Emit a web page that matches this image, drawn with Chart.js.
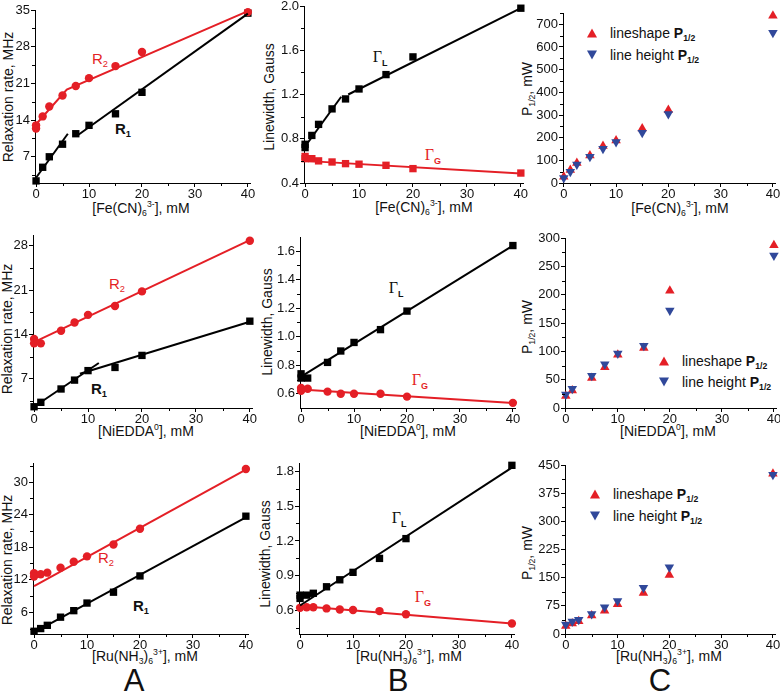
<!DOCTYPE html>
<html><head><meta charset="utf-8">
<script src="https://cdn.jsdelivr.net/npm/chart.js@4.4.1/dist/chart.umd.min.js"></script>
<style>
html,body{margin:0;padding:0;background:#fff;}
body{width:780px;height:693px;position:relative;overflow:hidden;font-family:"Liberation Sans",Arial,sans-serif;color:#111;}
canvas{position:absolute;}
.t{position:absolute;white-space:nowrap;transform:translate(-50%,-50%);font-size:14px;line-height:1;}
.yt{position:absolute;white-space:nowrap;transform:translate(-50%,-50%) rotate(-90deg);font-size:14px;line-height:1;}
sub{font-size:0.62em;vertical-align:-0.4em;line-height:0;}
sup{font-size:0.62em;vertical-align:0.7em;line-height:0;}
.lab{position:absolute;white-space:nowrap;transform:translate(-50%,-50%);font-size:15px;line-height:1;}
.red{color:#e41f26;}
.g{font-family:"Liberation Serif","Times New Roman",serif;font-size:16px;}
.g sub{font-family:"Liberation Sans",Arial,sans-serif;font-size:9px;font-weight:bold;}
.big{position:absolute;transform:translate(-50%,-50%);font-size:31px;line-height:1;}
.leg{position:absolute;white-space:nowrap;font-size:14px;line-height:1;transform:translateY(-50%);}
.tu{position:absolute;width:0;height:0;border-left:5px solid transparent;border-right:5px solid transparent;border-bottom:9px solid #e41f26;transform:translate(-50%,-50%);}
.td{position:absolute;width:0;height:0;border-left:5px solid transparent;border-right:5px solid transparent;border-top:9px solid #30489a;transform:translate(-50%,-50%);}
</style></head><body>

<!-- axis titles -->
<div class="yt" style="left:8px;top:97px">Relaxation rate, MHz</div>
<div class="yt" style="left:269px;top:97px">Linewidth, Gauss</div>
<div class="yt" style="left:527px;top:89px">P<sub>1/2</sub>, mW</div>
<div class="yt" style="left:7px;top:329px">Relaxation rate, MHz</div>
<div class="yt" style="left:267px;top:322px">Linewidth, Gauss</div>
<div class="yt" style="left:527px;top:327px">P<sub>1/2</sub>, mW</div>
<div class="yt" style="left:7px;top:560px">Relaxation rate, MHz</div>
<div class="yt" style="left:265px;top:554px">Linewidth, Gauss</div>
<div class="yt" style="left:527px;top:553px">P<sub>1/2</sub>, mW</div>

<div class="t" style="left:141px;top:208px">[Fe(CN)<sub>6</sub><sup>3-</sup>], mM</div>
<div class="t" style="left:424px;top:207px">[Fe(CN)<sub>6</sub><sup>3-</sup>], mM</div>
<div class="t" style="left:680px;top:208px">[Fe(CN)<sub>6</sub><sup>3-</sup>], mM</div>
<div class="t" style="left:146px;top:431px">[NiEDDA<sup>0</sup>], mM</div>
<div class="t" style="left:408px;top:431px">[NiEDDA<sup>0</sup>], mM</div>
<div class="t" style="left:668px;top:431px">[NiEDDA<sup>0</sup>], mM</div>
<div class="t" style="left:145px;top:656px">[Ru(NH<sub>3</sub>)<sub>6</sub><sup>3+</sup>], mM</div>
<div class="t" style="left:409px;top:656px">[Ru(NH<sub>3</sub>)<sub>6</sub><sup>3+</sup>], mM</div>
<div class="t" style="left:669px;top:656px">[Ru(NH<sub>3</sub>)<sub>6</sub><sup>3+</sup>], mM</div>

<!-- series labels -->
<div class="lab red" style="left:100px;top:58px">R<sub>2</sub></div>
<div class="lab" style="left:123px;top:128px;font-weight:bold">R<sub>1</sub></div>
<div class="lab g" style="left:380px;top:57px">Γ<sub>L</sub></div>
<div class="lab g red" style="left:433px;top:155px">Γ<sub>G</sub></div>
<div class="lab red" style="left:117px;top:283px">R<sub>2</sub></div>
<div class="lab" style="left:99px;top:388px;font-weight:bold">R<sub>1</sub></div>
<div class="lab g" style="left:396px;top:288px">Γ<sub>L</sub></div>
<div class="lab g red" style="left:420px;top:380px">Γ<sub>G</sub></div>
<div class="lab red" style="left:106px;top:557px">R<sub>2</sub></div>
<div class="lab" style="left:141px;top:605px;font-weight:bold">R<sub>1</sub></div>
<div class="lab g" style="left:399px;top:518px">Γ<sub>L</sub></div>
<div class="lab g red" style="left:423px;top:597px">Γ<sub>G</sub></div>

<!-- legends -->
<div class="tu" style="left:592px;top:33px"></div><div class="leg" style="left:610px;top:33px">lineshape <b>P<sub>1/2</sub></b></div>
<div class="td" style="left:592px;top:55px"></div><div class="leg" style="left:610px;top:55px">line height <b>P<sub>1/2</sub></b></div>
<div class="tu" style="left:664px;top:361px"></div><div class="leg" style="left:682px;top:361px">lineshape <b>P<sub>1/2</sub></b></div>
<div class="td" style="left:664px;top:382px"></div><div class="leg" style="left:682px;top:382px">line height <b>P<sub>1/2</sub></b></div>
<div class="tu" style="left:595px;top:494px"></div><div class="leg" style="left:613px;top:494px">lineshape <b>P<sub>1/2</sub></b></div>
<div class="td" style="left:595px;top:516px"></div><div class="leg" style="left:613px;top:516px">line height <b>P<sub>1/2</sub></b></div>

<div class="big" style="left:134px;top:680px">A</div>
<div class="big" style="left:398px;top:680px">B</div>
<div class="big" style="left:660px;top:680px">C</div>

<script>
// ---------- shared ticks ----------
const X_TICKS = [0, 10, 20, 30, 40];

// ---------- Row 1: [Fe(CN)6 3-] ----------
const FE_R2_X = [0, 0, 1.25, 2.5, 5, 7.5, 10, 15, 20, 40];
const FE_R2   = [13.0, 12.4, 14.7, 16.6, 18.7, 20.5, 22.0, 24.3, 27.0, 34.6];
const FE_R1_X = [0, 1.25, 2.5, 5, 7.5, 10, 15, 20, 40];
const FE_R1   = [2.4, 5.0, 7.0, 9.4, 11.4, 13.0, 15.2, 19.3, 34.4];
const FE_R2_FIT_X = [0, 5.8, 40];
const FE_R2_FIT   = [13.2, 19.8, 34.8];
const FE_R1_FITA_X = [0, 6];
const FE_R1_FITA   = [3.0, 11.4];
const FE_R1_FITB_X = [8, 40];
const FE_R1_FITB   = [11.2, 34.3];
const FE_A_YTICKS = [7, 14, 21, 28, 35];

const FE_G_X  = [0, 0, 1.25, 2.5, 5, 7.5, 10, 15, 20, 40];
const FE_GL   = [0.72, 0.75, 0.83, 0.93, 1.07, 1.16, 1.25, 1.38, 1.54, 1.98];
const FE_GG   = [0.62, 0.64, 0.62, 0.60, 0.59, 0.575, 0.57, 0.56, 0.53, 0.49];
const FE_GL_FITA_X = [0, 6.7];
const FE_GL_FITA   = [0.73, 1.18];
const FE_GL_FITB_X = [8, 40];
const FE_GL_FITB   = [1.20, 1.98];
const FE_GG_FIT_X  = [0, 40];
const FE_GG_FIT    = [0.60, 0.485];
const FE_B_YTICKS = [0.4, 0.8, 1.2, 1.6, 2.0];

const FE_P_X     = [0, 1.25, 2.5, 5, 7.5, 10, 15, 20, 40];
const FE_P_SHAPE = [28, 57, 88, 121, 163, 188, 240, 322, 738];
const FE_P_HEIGHT= [22, 50, 82, 116, 151, 181, 222, 304, 663];
const FE_C_YTICKS = [0, 100, 200, 300, 400, 500, 600, 700];

// ---------- Row 2: [NiEDDA0] ----------
const NI_R2_X = [0, 0, 1.25, 5, 7.5, 10, 15, 20, 40];
const NI_R2   = [13.3, 12.6, 12.6, 14.6, 15.9, 17.1, 18.5, 20.8, 28.8];
const NI_R1_X = [0, 1.25, 5, 7.5, 10, 15, 20, 40];
const NI_R1   = [2.6, 3.3, 5.4, 6.8, 8.3, 8.8, 10.7, 16.1];
const NI_R2_FIT_X = [0, 40];
const NI_R2_FIT   = [12.8, 28.9];
const NI_R1_FITA_X = [0, 12];
const NI_R1_FITA   = [2.6, 9.5];
const NI_R1_FITB_X = [8.5, 40];
const NI_R1_FITB   = [7.8, 16.0];
const NI_A_YTICKS = [7, 14, 21, 28];

const NI_G_X = [0, 0, 1.25, 5, 7.5, 10, 15, 20, 40];
const NI_GL  = [0.74, 0.71, 0.71, 0.82, 0.90, 0.96, 1.05, 1.18, 1.64];
const NI_GG  = [0.64, 0.62, 0.635, 0.615, 0.60, 0.60, 0.60, 0.58, 0.536];
const NI_GL_FIT_X = [0, 40];
const NI_GL_FIT   = [0.72, 1.64];
const NI_GG_FIT_X = [0, 40];
const NI_GG_FIT   = [0.63, 0.535];
const NI_B_YTICKS = [0.6, 0.8, 1.0, 1.2, 1.4, 1.6];

const NI_P_X      = [0, 1.25, 5, 7.5, 10, 15, 20, 40];
const NI_P_SHAPE  = [21, 31, 53, 72, 94, 106, 207, 287];
const NI_P_HEIGHT = [24, 34, 57, 77, 96, 110, 172, 269];
const NI_C_YTICKS = [0, 50, 100, 150, 200, 250, 300];

// ---------- Row 3: [Ru(NH3)6 3+] ----------
const RU_R2_X = [0, 0, 1.25, 2.5, 5, 7.5, 10, 15, 20, 40];
const RU_R2   = [13.2, 12.6, 13.0, 13.3, 14.2, 15.3, 16.3, 18.5, 21.4, 32.4];
const RU_R1_X = [0, 1.25, 2.5, 5, 7.5, 10, 15, 20, 40];
const RU_R1   = [2.5, 3.0, 3.6, 5.1, 6.3, 7.7, 9.7, 12.7, 23.7];
const RU_R2_FIT_X = [0, 40];
const RU_R2_FIT   = [10.8, 32.3];
const RU_R1_FIT_X = [0, 40];
const RU_R1_FIT   = [2.3, 23.5];
const RU_A_YTICKS = [6, 12, 18, 24, 30];

const RU_GL_X = [0, 0, 1.25, 2.5, 5, 7.5, 10, 15, 20, 40];
const RU_GL   = [0.734, 0.706, 0.734, 0.75, 0.806, 0.866, 0.93, 1.05, 1.22, 1.85];
const RU_GG_X = [0, 1.25, 2.5, 5, 7.5, 10, 15, 20, 40];
const RU_GG   = [0.625, 0.63, 0.63, 0.62, 0.61, 0.606, 0.597, 0.57, 0.49];
const RU_GL_FIT_X = [0, 40];
const RU_GL_FIT   = [0.645, 1.83];
const RU_GG_FIT_X = [0, 40];
const RU_GG_FIT   = [0.64, 0.49];
const RU_B_YTICKS = [0.6, 0.9, 1.2, 1.5, 1.8];

const RU_P_X      = [0, 1.25, 2.5, 5, 7.5, 10, 15, 20, 40];
const RU_P_SHAPE  = [21, 28, 34, 49, 62, 79, 109, 157, 427];
const RU_P_HEIGHT = [25, 33, 38, 53, 71, 88, 123, 178, 424];
const RU_C_YTICKS = [0, 75, 150, 225, 300, 375, 450];

// ---------- styling helpers ----------
const RED = '#e41f26', BLACK = '#000000', BLUE = '#30489a';
const pts = (xs, ys) => xs.map((x, i) => ({x: x, y: ys[i]}));
const sq  = (xs, ys, c) => ({data: pts(xs, ys), pointStyle: 'rect', pointRadius: 5.2, backgroundColor: c, borderColor: c, borderWidth: 0, showLine: false, clip: false, order: 2});
const ci  = (xs, ys, c) => ({data: pts(xs, ys), pointStyle: 'circle', pointRadius: 4.2, backgroundColor: c, borderColor: c, borderWidth: 0, showLine: false, clip: false, order: 2});
const up  = (xs, ys, c) => ({data: pts(xs, ys), pointStyle: 'triangle', pointRadius: 5.5, backgroundColor: c, borderColor: c, borderWidth: 0, showLine: false, clip: false, order: 2});
const dn  = (xs, ys, c) => ({data: pts(xs, ys), pointStyle: 'triangle', rotation: 180, pointRadius: 5.5, backgroundColor: c, borderColor: c, borderWidth: 0, showLine: false, clip: false, order: 1});
const fit = (xs, ys, c) => ({data: pts(xs, ys), showLine: true, pointRadius: 0, borderColor: c, borderWidth: 2, backgroundColor: c, clip: false, order: 0});

const minorTicks = {
  id: 'minorTicks',
  afterDraw(chart) {
    const ctx = chart.ctx, xs = chart.scales.x, ys = chart.scales.y;
    ctx.save();
    ctx.strokeStyle = '#000'; ctx.lineWidth = 1;
    const mids = (tk, min, max) => {
      const out = [];
      const step = tk[1] - tk[0];
      for (let i = -1; i < tk.length; i++) {
        const m = (i < 0 ? tk[0] - step / 2 : tk[i] + step / 2);
        if (m >= min && m <= max) out.push(m);
      }
      return out;
    };
    const xt = xs.ticks.map(t => t.value), yt = ys.ticks.map(t => t.value);
    mids(xt, xs.min, xs.max).forEach(v => {
      const p = Math.round(xs.getPixelForValue(v)) + 0.5;
      ctx.beginPath(); ctx.moveTo(p, ys.bottom); ctx.lineTo(p, ys.bottom + 3); ctx.stroke();
    });
    mids(yt, ys.min, ys.max).forEach(v => {
      const p = Math.round(ys.getPixelForValue(v)) + 0.5;
      ctx.beginPath(); ctx.moveTo(xs.left, p); ctx.lineTo(xs.left - 3, p); ctx.stroke();
    });
    ctx.restore();
  }
};

const YW = 36, TP = 10, RP = 14, XH = 22;

function makePanel(p) {
  const c = document.createElement('canvas');
  const w = (p.R - p.L) + YW + RP, h = (p.B - p.T) + TP + XH;
  c.width = w; c.height = h;
  c.style.left = (p.L - YW) + 'px'; c.style.top = (p.T - TP) + 'px';
  c.style.width = w + 'px'; c.style.height = h + 'px';
  document.body.appendChild(c);
  const font = {family: '"Liberation Sans", Arial, sans-serif', size: 13};
  new Chart(c, {
    type: 'scatter',
    data: {datasets: p.datasets},
    plugins: [minorTicks],
    options: {
      responsive: false, animation: false, devicePixelRatio: 1,
      layout: {padding: {left: 0, top: TP, right: RP, bottom: 0}},
      plugins: {legend: {display: false}, tooltip: {enabled: false}},
      scales: {
        x: {
          type: 'linear', min: p.xmin, max: p.xmax,
          afterBuildTicks: s => { s.ticks = X_TICKS.map(v => ({value: v})); },
          afterFit: s => { s.height = XH; },
          grid: {drawOnChartArea: false, drawTicks: true, tickLength: 4, color: '#000'},
          border: {color: '#000', width: 1},
          ticks: {color: '#111', font: font, padding: 0, maxRotation: 0, callback: v => String(v)}
        },
        y: {
          type: 'linear', min: p.ymin, max: p.ymax,
          afterBuildTicks: s => { s.ticks = p.yticks.map(v => ({value: v})); },
          afterFit: s => { s.width = YW; },
          grid: {drawOnChartArea: false, drawTicks: true, tickLength: 4, color: '#000'},
          border: {color: '#000', width: 1},
          ticks: {color: '#111', font: font, padding: 1, callback: v => p.dec ? Number(v).toFixed(p.dec) : String(v)}
        }
      }
    }
  });
}

const panels = [
  {L: 35, R: 250, T: 10, B: 183, xmin: -0.2, xmax: 40.4, ymin: 2, ymax: 35, yticks: FE_A_YTICKS, dec: 0,
   datasets: [ci(FE_R2_X, FE_R2, RED), sq(FE_R1_X, FE_R1, BLACK), fit(FE_R2_FIT_X, FE_R2_FIT, RED),
              fit(FE_R1_FITA_X, FE_R1_FITA, BLACK), fit(FE_R1_FITB_X, FE_R1_FITB, BLACK)]},
  {L: 304, R: 523, T: 6, B: 183, xmin: -0.2, xmax: 40.4, ymin: 0.4, ymax: 2.0, yticks: FE_B_YTICKS, dec: 1,
   datasets: [sq(FE_G_X, FE_GL, BLACK), sq(FE_G_X, FE_GG, RED), fit(FE_GL_FITA_X, FE_GL_FITA, BLACK),
              fit(FE_GL_FITB_X, FE_GL_FITB, BLACK), fit(FE_GG_FIT_X, FE_GG_FIT, RED)]},
  {L: 563, R: 775, T: 13, B: 183, xmin: -0.15, xmax: 40.4, ymin: 0, ymax: 750, yticks: FE_C_YTICKS, dec: 0,
   datasets: [up(FE_P_X, FE_P_SHAPE, RED), dn(FE_P_X, FE_P_HEIGHT, BLUE)]},

  {L: 33, R: 252, T: 235, B: 408, xmin: -0.2, xmax: 40.4, ymin: 2.4, ymax: 29.7, yticks: NI_A_YTICKS, dec: 0,
   datasets: [ci(NI_R2_X, NI_R2, RED), sq(NI_R1_X, NI_R1, BLACK), fit(NI_R2_FIT_X, NI_R2_FIT, RED),
              fit(NI_R1_FITA_X, NI_R1_FITA, BLACK), fit(NI_R1_FITB_X, NI_R1_FITB, BLACK)]},
  {L: 300, R: 515, T: 237, B: 408, xmin: -0.2, xmax: 40.4, ymin: 0.5, ymax: 1.7, yticks: NI_B_YTICKS, dec: 1,
   datasets: [sq(NI_G_X, NI_GL, BLACK), ci(NI_G_X, NI_GG, RED), fit(NI_GL_FIT_X, NI_GL_FIT, BLACK),
              fit(NI_GG_FIT_X, NI_GG_FIT, RED)]},
  {L: 565, R: 776, T: 238, B: 408, xmin: -0.15, xmax: 40.4, ymin: 0, ymax: 300, yticks: NI_C_YTICKS, dec: 0,
   datasets: [up(NI_P_X, NI_P_SHAPE, RED), dn(NI_P_X, NI_P_HEIGHT, BLUE)]},

  {L: 33, R: 248, T: 463, B: 634, xmin: -0.2, xmax: 40.4, ymin: 2, ymax: 33.5, yticks: RU_A_YTICKS, dec: 0,
   datasets: [ci(RU_R2_X, RU_R2, RED), sq(RU_R1_X, RU_R1, BLACK), fit(RU_R2_FIT_X, RU_R2_FIT, RED),
              fit(RU_R1_FIT_X, RU_R1_FIT, BLACK)]},
  {L: 299, R: 514, T: 463, B: 634, xmin: -0.2, xmax: 40.4, ymin: 0.4, ymax: 1.87, yticks: RU_B_YTICKS, dec: 1,
   datasets: [sq(RU_GL_X, RU_GL, BLACK), ci(RU_GG_X, RU_GG, RED), fit(RU_GL_FIT_X, RU_GL_FIT, BLACK),
              fit(RU_GG_FIT_X, RU_GG_FIT, RED)]},
  {L: 565, R: 775, T: 465, B: 634, xmin: -0.15, xmax: 40.4, ymin: 0, ymax: 450, yticks: RU_C_YTICKS, dec: 0,
   datasets: [up(RU_P_X, RU_P_SHAPE, RED), dn(RU_P_X, RU_P_HEIGHT, BLUE)]}
];

panels.forEach(makePanel);
</script>
</body></html>
